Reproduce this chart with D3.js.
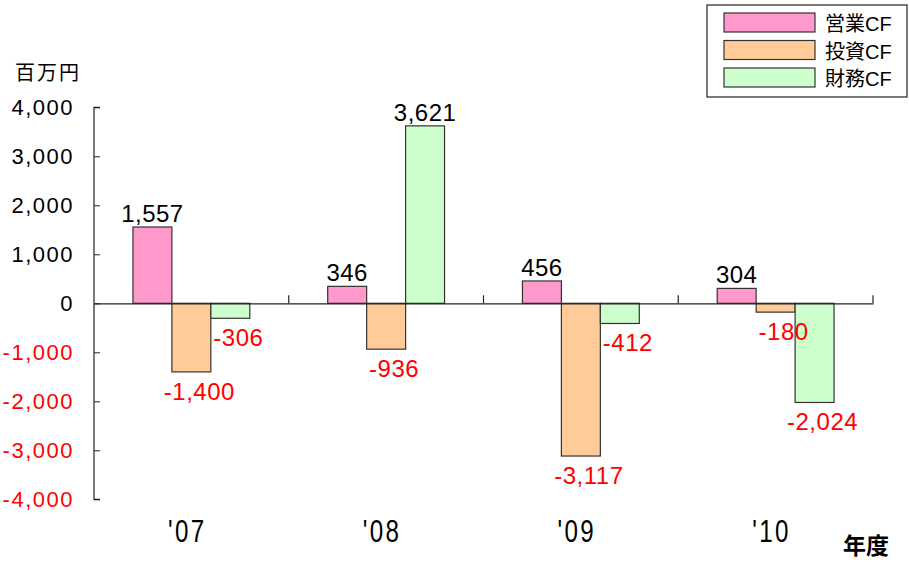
<!DOCTYPE html>
<html><head><meta charset="utf-8">
<script src="https://cdn.jsdelivr.net/npm/d3@7"></script>
<style>
body{margin:0;background:#fff;}
svg{display:block;font-family:"Liberation Sans",Arial,sans-serif;}
</style></head><body>
<svg id="c" width="909" height="562"></svg>
<script>
const years = ["'07", "'08", "'09", "'10"];
const seriesNames = ["営業CF", "投資CF", "財務CF"];
const operatingCF = [1557, 346, 456, 304];
const investingCF = [-1400, -936, -3117, -180];
const financingCF = [-306, 3621, -412, -2024];
const yTicks = [-4000, -3000, -2000, -1000, 0, 1000, 2000, 3000, 4000];
const colors = ["#FF99CC", "#FFCC99", "#CCFFCC"];

const seriesValues = [operatingCF, investingCF, financingCF];
const svg = d3.select("#c");
const loc = d3.formatLocale({decimal: ".", thousands: ",", grouping: [3], currency: ["", ""], minus: "-"});
const fmt = loc.format(",");

const x = d3.scaleBand().domain(years).range([94, 873]).paddingInner(0).paddingOuter(0);
const xs = d3.scaleBand().domain(seriesNames).range([0, x.bandwidth()]).paddingInner(0).paddingOuter(1);
const y = d3.scaleLinear().domain([-4000, 4000]).range([499.3, 107.3]);

// y axis
const yAxis = d3.axisLeft(y).tickValues(yTicks).tickSize(-6).tickPadding(20).tickFormat(fmt);
const ya = svg.append("g").attr("transform", "translate(94,0)").call(yAxis);
ya.select(".domain").attr("stroke", "#222").attr("d", `M6,${y(4000)}H0V${y(-4000)}H6`).attr("stroke-width", 1.2);
ya.selectAll(".tick line").attr("stroke", "#222");
ya.selectAll(".tick text")
  .attr("font-size", 22).attr("font-family", "Liberation Sans, Arial, sans-serif")
  .attr("letter-spacing", 1.5)
  .attr("fill", d => d < 0 ? "#FF0000" : "#000");

// bars
years.forEach((yr, i) => {
  const g = svg.append("g").attr("transform", `translate(${x(yr)},0)`);
  seriesNames.forEach((s, j) => {
    const v = seriesValues[j][i];
    g.append("rect")
      .attr("x", xs(s)).attr("width", xs.bandwidth())
      .attr("y", y(Math.max(0, v))).attr("height", Math.abs(y(v) - y(0)))
      .attr("fill", colors[j]).attr("stroke", "#333").attr("stroke-width", 1.2);
  });
});

// zero line with category ticks
const xa = svg.append("g").attr("transform", `translate(0,${y(0)})`)
  .call(d3.axisBottom(x).tickSize(0).tickFormat(""));
xa.select(".domain").attr("stroke", "#222").attr("stroke-width", 1.2);
xa.selectAll(".tick").remove();
years.forEach(yr => {
  xa.append("line").attr("x1", x(yr) + x.bandwidth()).attr("x2", x(yr) + x.bandwidth())
    .attr("y1", 0).attr("y2", -8).attr("stroke", "#222").attr("stroke-width", 1.2);
});

// x labels (condensed)
years.forEach(yr => {
  svg.append("text")
    .attr("transform", `translate(${x(yr) + x.bandwidth() / 2 - 4},542) scale(0.78,1)`)
    .attr("text-anchor", "middle").attr("font-size", 31).attr("letter-spacing", 3)
    .attr("fill", "#000").text(yr);
});

// value labels
years.forEach((yr, i) => {
  seriesNames.forEach((s, j) => {
    const v = seriesValues[j][i];
    const cx = x(yr) + xs(s) + xs.bandwidth() / 2;
    const t = svg.append("text").attr("font-size", 24).attr("text-anchor", "middle")
      .attr("letter-spacing", 0.5)
      .attr("fill", v < 0 ? "#FF0000" : "#000").text(fmt(v));
    if (v >= 0) t.attr("x", cx).attr("y", y(v) - 5);
    else t.attr("x", cx + 8).attr("y", y(v) + 28);
  });
});

// unit label
svg.append("text").attr("x", 15).attr("y", 80).attr("font-size", 20)
  .attr("letter-spacing", 2)
  .attr("font-family", "Noto Sans CJK JP, sans-serif").text("百万円");
svg.append("text").attr("x", 843).attr("y", 554).attr("font-size", 23).attr("font-weight", "bold")
  .attr("font-family", "Noto Sans CJK JP, sans-serif").text("年度");

// legend
const lg = svg.append("g");
lg.append("rect").attr("x", 707).attr("y", 5).attr("width", 200).attr("height", 92)
  .attr("fill", "#fff").attr("stroke", "#222").attr("stroke-width", 1.2);
seriesNames.forEach((s, j) => {
  const yy = 13 + j * 27.5;
  lg.append("rect").attr("x", 724).attr("y", yy).attr("width", 91).attr("height", 19)
    .attr("fill", colors[j]).attr("stroke", "#333").attr("stroke-width", 1.2);
  lg.append("text").attr("x", 825).attr("y", yy + 18).attr("font-size", 20)
    .attr("font-family", "Noto Sans CJK JP, sans-serif").text(s.replace("CF", ""))
    .append("tspan").attr("font-family", "Liberation Sans Narrow, Liberation Sans, sans-serif").text("CF");
});
</script>
</body></html>
